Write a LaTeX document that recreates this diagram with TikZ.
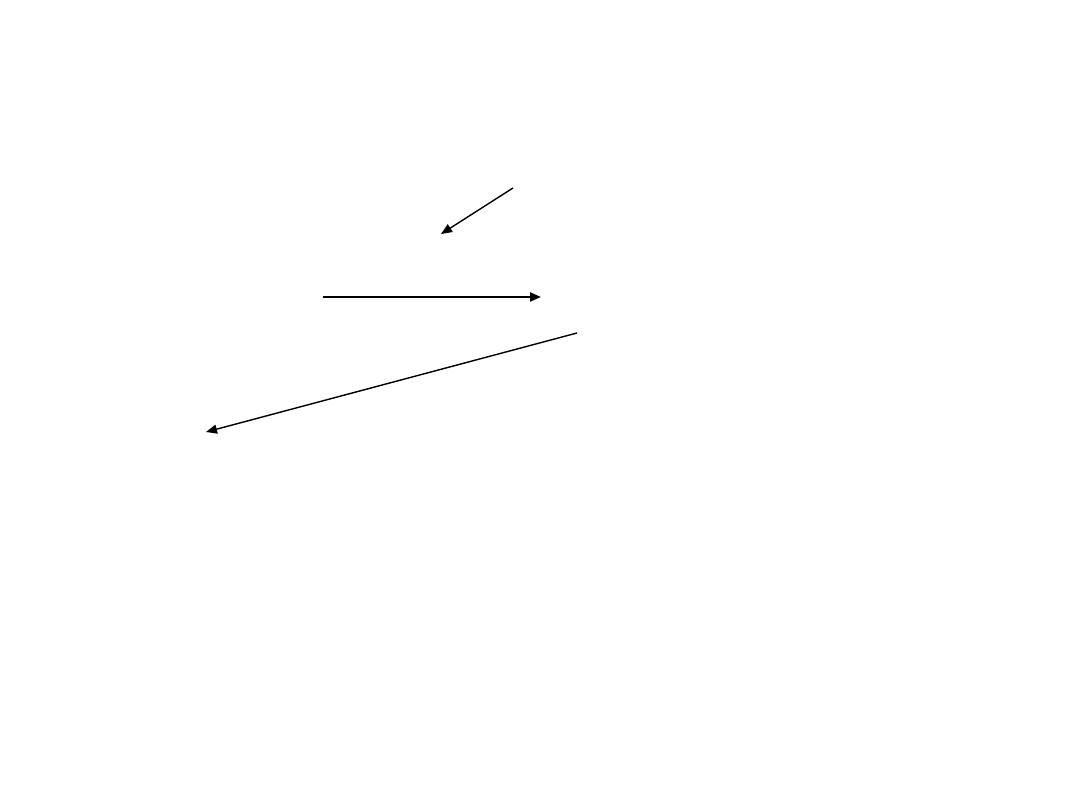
\documentclass[tikz,border=0pt]{standalone}
\usetikzlibrary{arrows.meta}
\begin{document}
\begin{tikzpicture}[x=0.01cm,y=-0.01cm,
  thinarrow/.style={draw=black,line width=0.4pt,-{Triangle[length=1.1mm,width=0.9mm]}},
  thickarrow/.style={draw=black,line width=0.65pt,-{Triangle[length=1.1mm,width=0.9mm]}}]
\fill[white] (0,0) rectangle (1080,810);
\useasboundingbox (0,0) rectangle (1080,810);
\coordinate (a1s) at (513,188);
\coordinate (a1e) at (441,234);
\coordinate (a2s) at (323,297);
\coordinate (a2e) at (541,297);
\coordinate (a3s) at (577,333);
\coordinate (a3e) at (206,432);
\draw[thinarrow] (a1s) -- (a1e);
\draw[thickarrow] (a2s) -- (a2e);
\draw[thinarrow] (a3s) -- (a3e);
\end{tikzpicture}
\end{document}
